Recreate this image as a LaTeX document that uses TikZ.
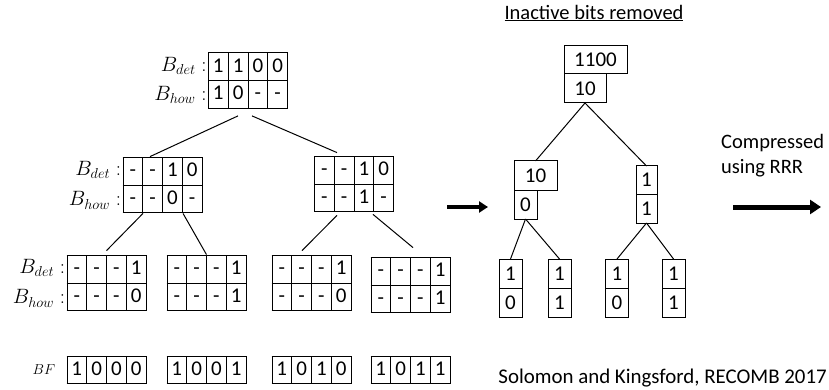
\documentclass[tikz,border=0pt]{standalone}
\usepackage{fontspec}
\setmainfont{Carlito}
\usepackage{array}
\usetikzlibrary{arrows.meta,positioning}

\newcolumntype{Q}{>{\centering\arraybackslash}p{19pt}}
\newcommand{\bitrow}[4]{\rule[-8pt]{0pt}{27pt}#1&#2&#3&#4\\\hline}
\newcommand{\cellfont}{\fontsize{21}{24}\selectfont}
\setlength{\tabcolsep}{0pt}
\setlength{\arrayrulewidth}{0.8pt}

\begin{document}
\begin{tikzpicture}[x=1pt, y=-1pt,
    grid/.style={inner sep=0pt, font=\cellfont},
    bit/.style={draw, line width=1pt, inner sep=0pt, outer sep=0pt, minimum height=29pt, font=\cellfont},
    tag/.style={anchor=east, inner sep=1pt, font=\fontsize{21}{24}\selectfont},
    edge/.style={line width=1pt}]
    \useasboundingbox (0,0) rectangle (829,390);

    % left tree with both bit vectors
    \node[grid] (top) at (248,80.5) {\begin{tabular}{|Q|Q|Q|Q|}\hline\bitrow{1}{1}{0}{0}\bitrow{1}{0}{-}{-}\end{tabular}};
    \node[grid] (ml) at (162.5,185) {\begin{tabular}{|Q|Q|Q|Q|}\hline\bitrow{-}{-}{1}{0}\bitrow{-}{-}{0}{-}\end{tabular}};
    \node[grid] (mr) at (354,184) {\begin{tabular}{|Q|Q|Q|Q|}\hline\bitrow{-}{-}{1}{0}\bitrow{-}{-}{1}{-}\end{tabular}};
    \node[grid] (l1) at (106.5,283) {\begin{tabular}{|Q|Q|Q|Q|}\hline\bitrow{-}{-}{-}{1}\bitrow{-}{-}{-}{0}\end{tabular}};
    \node[grid] (l2) at (206.5,283) {\begin{tabular}{|Q|Q|Q|Q|}\hline\bitrow{-}{-}{-}{1}\bitrow{-}{-}{-}{1}\end{tabular}};
    \node[grid] (l3) at (311.5,283) {\begin{tabular}{|Q|Q|Q|Q|}\hline\bitrow{-}{-}{-}{1}\bitrow{-}{-}{-}{0}\end{tabular}};
    \node[grid] (l4) at (410.5,285) {\begin{tabular}{|Q|Q|Q|Q|}\hline\bitrow{-}{-}{-}{1}\bitrow{-}{-}{-}{1}\end{tabular}};

    \node[tag] (topdet) at ([yshift=-13.75pt]top.north west) {$B_{det}:$};
    \node[tag] (tophow) at ([yshift=13.75pt]top.south west) {$B_{how}:$};
    \node[tag] (mldet) at ([yshift=-13pt]ml.north west) {$B_{det}:$};
    \node[tag] (mlhow) at ([yshift=13pt]ml.south west) {$B_{how}:$};
    \node[tag] (l1det) at ([yshift=-13pt]l1.north west) {$B_{det}:$};
    \node[tag] (l1how) at ([yshift=13pt]l1.south west) {$B_{how}:$};

    \draw[edge] ([xshift=-10pt,yshift=-7pt]top.south) -- ([xshift=-12.5pt]ml.north);
    \draw[edge] ([xshift=4pt,yshift=-7pt]top.south) -- ([xshift=-17pt,yshift=3pt]mr.north);
    \draw[edge] ([xshift=-19.5pt]ml.south) -- ([yshift=4pt]l1.north);
    \draw[edge] ([xshift=20.5pt]ml.south) -- (l2.north);
    \draw[edge] ([xshift=-17pt,yshift=-3pt]mr.south) -- ([xshift=-9.5pt,yshift=4pt]l3.north);
    \draw[edge] ([xshift=19pt,yshift=-2pt]mr.south) -- ([xshift=2.5pt,yshift=9pt]l4.north);

    % bit fields
    \node[font=\fontsize{15}{17}\selectfont] (bf) at (44,370) {$BF$};
    \node[grid] (bf1) at (106.5,370) {\begin{tabular}{|Q|Q|Q|Q|}\hline\rule[-7pt]{0pt}{26pt}1&0&0&0\\\hline\end{tabular}};
    \node[grid] (bf2) at (206.5,370) {\begin{tabular}{|Q|Q|Q|Q|}\hline\rule[-7pt]{0pt}{26pt}1&0&0&1\\\hline\end{tabular}};
    \node[grid] (bf3) at (311.5,370) {\begin{tabular}{|Q|Q|Q|Q|}\hline\rule[-7pt]{0pt}{26pt}1&0&1&0\\\hline\end{tabular}};
    \node[grid] (bf4) at (410.5,370) {\begin{tabular}{|Q|Q|Q|Q|}\hline\rule[-7pt]{0pt}{26pt}1&0&1&1\\\hline\end{tabular}};

    \coordinate (m1) at (447,207);
    \coordinate (m2) at (488,207);
    \draw[-{Triangle[length=9pt,width=11pt]}, line width=3.5pt] (m1) -- (m2);

    % right tree, inactive bits removed
    \node[font=\fontsize{20.5}{24}\selectfont] (head) at (594,13) {\underline{Inactive bits removed}};

    \node[bit, minimum width=63pt, minimum height=28pt] (r0a) at (595.5,60) {1100};
    \node[bit, minimum width=42pt, below right=0pt of r0a.south west] (r0b) {10};
    \node[bit, minimum width=43pt] (r1a) at (535.5,175.5) {10};
    \node[bit, minimum width=23pt, below right=0pt of r1a.south west] (r1b) {0};
    \node[bit, minimum width=21pt, minimum height=28pt] (r2a) at (646.5,180) {1};
    \node[bit, minimum width=21pt, below=0pt of r2a] (r2b) {1};

    \node[bit, minimum width=23pt] (la1) at (510.5,273.5) {1};
    \node[bit, minimum width=23pt, below=0pt of la1] (lb1) {0};
    \node[bit, minimum width=23pt] (la2) at (559.5,273.5) {1};
    \node[bit, minimum width=23pt, below=0pt of la2] (lb2) {1};
    \node[bit, minimum width=23pt] (la3) at (617,273.5) {1};
    \node[bit, minimum width=23pt, below=0pt of la3] (lb3) {0};
    \node[bit, minimum width=23pt] (la4) at (673.5,273.5) {1};
    \node[bit, minimum width=23pt, below=0pt of la4] (lb4) {1};

    \draw[edge] (r0b.south) -- (r1a.north);
    \draw[edge] (r0b.south) -- (r2a.north);
    \draw[edge] (r1b.south) -- (la1.north);
    \draw[edge] (r1b.south) -- (la2.north);
    \draw[edge] (r2b.south) -- (la3.north);
    \draw[edge] (r2b.south) -- (la4.north);

    \node[anchor=west, align=left, inner sep=0pt, font=\fontsize{20.5}{25}\selectfont] (rrr) at (721,155.5) {Compressed\\using RRR};
    \coordinate (c1) at (733,207);
    \coordinate (c2) at (821,207);
    \draw[-{Triangle[length=11pt,width=14pt]}, line width=5pt] (c1) -- (c2);

    \node[anchor=east, inner sep=0pt, font=\fontsize{20.9}{24}\selectfont] (cite) at (827,378) {Solomon and Kingsford, RECOMB 2017};
\end{tikzpicture}
\end{document}
